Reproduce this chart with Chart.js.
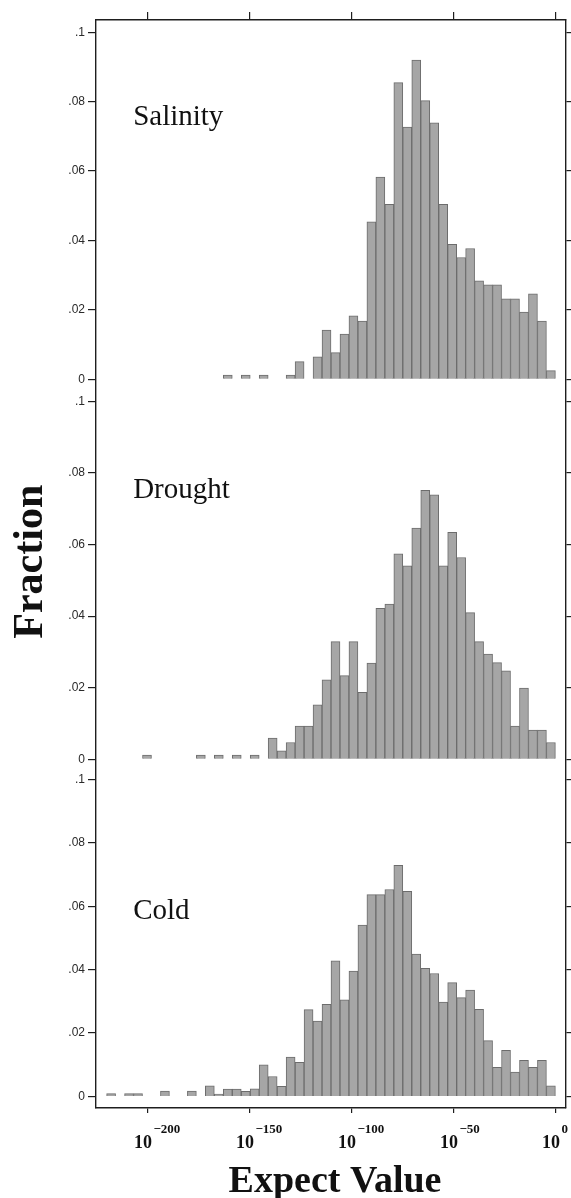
<!DOCTYPE html>
<html lang="en">
<head>
<meta charset="UTF-8">
<title>Expect Value histograms</title>
<script src="https://cdn.jsdelivr.net/npm/chart.js/dist/chart.umd.min.js"></script>
<style>
  html, body { margin: 0; padding: 0; background: #fff; }
  #wrap { position: relative; width: 571px; height: 1198px; }
  canvas { position: absolute; left: 0; }
</style>
</head>
<body>
<div id="wrap">
  <canvas id="salinity" width="571" height="390" style="top:0px"></canvas>
  <canvas id="drought" width="571" height="379" style="top:390px"></canvas>
  <canvas id="cold" width="571" height="429" style="top:769px"></canvas>
</div>
<script>
// histogram fractions, leftmost bin first, last bin ends at 10^0 (null = empty bin)
const BIN_WIDTH = 4.4; // in exponent units
const salinity = [0.0012, null, 0.0012, null, 0.0012, null, null, 0.0012, 0.0051, null,
  0.0065, 0.0142, 0.0077, 0.013, 0.0183, 0.0168, 0.0454, 0.0583, 0.0504, 0.0855,
  0.0727, 0.092, 0.0803, 0.0739, 0.0504, 0.0389, 0.0351, 0.0377, 0.0284, 0.0272,
  0.0272, 0.0232, 0.0232, 0.0194, 0.0246, 0.0168, 0.0025];
const drought = [0.0012, null, null, null, null, null, 0.0012, null, 0.0012, null,
  0.0012, null, 0.0012, null, 0.0059, 0.0024, 0.0047, 0.0093, 0.0093, 0.0152,
  0.0222, 0.0329, 0.0234, 0.0329, 0.0187, 0.0269, 0.0422, 0.0434, 0.0574, 0.0541,
  0.0646, 0.0752, 0.0739, 0.0541, 0.0634, 0.0564, 0.041, 0.0329, 0.0294, 0.027,
  0.0247, 0.0093, 0.0199, 0.0082, 0.0082, 0.0047];
const cold = [0.0009, null, 0.0009, 0.0009, null, null, 0.0017, null, null, 0.0017,
  null, 0.0034, 0.0008, 0.0023, 0.0023, 0.0016, 0.0024, 0.01, 0.0063, 0.0032,
  0.0124, 0.0108, 0.0274, 0.0238, 0.0291, 0.0428, 0.0305, 0.0396, 0.0541, 0.0637,
  0.0637, 0.0653, 0.0729, 0.0647, 0.0449, 0.0404, 0.0388, 0.0298, 0.0359, 0.0312,
  0.0336, 0.0275, 0.0176, 0.0092, 0.0146, 0.0077, 0.0114, 0.0092, 0.0114, 0.0034];

const xTicks = [-200, -150, -100, -50, 0];
const xTickExps = ['\u2212200', '\u2212150', '\u2212100', '\u221250', '0'];
const yTicks = [0, 0.02, 0.04, 0.06, 0.08, 0.1];
const yTickLabels = ['0', '.02', '.04', '.06', '.08', '.1'];

const X_MIN = -225.2, X_MAX = 5.2;
const INK = '#1e1e1e';

// bin centres for n bins ending at 0
function binCenters(n) {
  const out = [];
  for (let i = 0; i < n; i++) out.push(-(n - i - 0.5) * BIN_WIDTH);
  return out;
}

const textPlugin = {
  id: 'panelText',
  afterDraw(chart, args, o) {
    const ctx = chart.ctx;
    const xs = chart.scales.x, ys = chart.scales.y, area = chart.chartArea;
    ctx.save();
    ctx.fillStyle = '#111';
    ctx.textBaseline = 'alphabetic';
    ctx.textAlign = 'left';
    ctx.font = '29px "Liberation Serif"';
    ctx.fillText(o.name, xs.getPixelForValue(-207), ys.getPixelForValue(o.nameY));

    if (o.fraction) {
      ctx.save();
      ctx.translate(41.5, 171.7);
      ctx.rotate(-Math.PI / 2);
      ctx.textAlign = 'center';
      ctx.font = 'bold 42px "Liberation Serif"';
      ctx.fillText('Fraction', 0, 0);
      ctx.restore();
    }
    if (o.xLabels) {
      xTicks.forEach((v, i) => {
        const px = xs.getPixelForValue(v);
        ctx.font = 'bold 18px "Liberation Serif"';
        ctx.textAlign = 'right';
        ctx.fillText('10', px + 4.5, area.bottom + 40.3);
        ctx.font = 'bold 13px "Liberation Serif"';
        ctx.textAlign = 'left';
        ctx.fillText(xTickExps[i], px + 6, area.bottom + 24.7);
      });
      ctx.font = 'bold 38px "Liberation Serif"';
      ctx.textAlign = 'center';
      ctx.fillText('Expect Value', (area.left + area.right) / 2 + 4, area.bottom + 83.7);
    }
    ctx.restore();
  }
};

// y axes must not push the plot area in, panels sit flush
function fitY(width) {
  return s => {
    s.width = width;
    s.paddingTop = 0;
    s.paddingBottom = 0;
  };
}

function makeChart(id, values, cfg) {
  const centers = binCenters(values.length);
  const xAxis = {
    type: 'linear', min: X_MIN, max: X_MAX, offset: false,
    display: cfg.xPos !== 'none',
    position: cfg.xPos === 'none' ? 'bottom' : cfg.xPos,
    afterBuildTicks: s => { s.ticks = xTicks.map(v => ({ value: v })); },
    ticks: { display: false },
    grid: { drawOnChartArea: false, offset: false, tickLength: cfg.xTickLen, color: INK, lineWidth: 1.2 },
    border: { display: true, color: INK, width: 1.4 },
    afterFit: s => { s.height = cfg.xHeight; }
  };
  return new Chart(document.getElementById(id), {
    type: 'bar',
    data: {
      datasets: [{
        data: centers.map((x, i) => ({ x: x, y: values[i] })),
        backgroundColor: '#a6a6a6',
        borderColor: '#6c6c6c',
        borderWidth: 1,
        barPercentage: 1,
        categoryPercentage: 1
      }]
    },
    options: {
      responsive: false,
      animation: false,
      layout: { padding: 0 },
      plugins: {
        legend: { display: false },
        tooltip: { enabled: false },
        panelText: cfg.text
      },
      scales: {
        x: xAxis,
        y: {
          type: 'linear', position: 'left', min: cfg.yMin, max: cfg.yMax,
          afterBuildTicks: s => { s.ticks = yTicks.map(v => ({ value: v })); },
          ticks: {
            callback: v => yTickLabels[yTicks.indexOf(v)],
            font: { family: '"Liberation Sans"', size: 12 },
            color: '#2a2a2a', padding: 3
          },
          grid: { drawOnChartArea: false, tickLength: 8, color: INK, lineWidth: 1.2 },
          border: { display: true, color: INK, width: 1.4 },
          afterFit: fitY(96)
        },
        y2: {
          type: 'linear', position: 'right', min: cfg.yMin, max: cfg.yMax,
          afterBuildTicks: s => { s.ticks = yTicks.map(v => ({ value: v })); },
          ticks: { display: false },
          grid: { drawOnChartArea: false, tickLength: 5, color: INK, lineWidth: 1.2 },
          border: { display: true, color: INK, width: 1.4 },
          afterFit: fitY(5)
        }
      }
    },
    plugins: [textPlugin]
  });
}

makeChart('salinity', salinity, {
  xPos: 'top', xTickLen: 8, xHeight: 20,
  yMin: -0.00308, yMax: 0.10354,
  text: { name: 'Salinity', nameY: 0.0733 }
});
makeChart('drought', drought, {
  xPos: 'none', xTickLen: 0, xHeight: 0,
  yMin: -0.00271, yMax: 0.10321,
  text: { name: 'Drought', nameY: 0.0729, fraction: true }
});
makeChart('cold', cold, {
  xPos: 'bottom', xTickLen: 5, xHeight: 90,
  yMin: -0.00363, yMax: 0.10331,
  text: { name: 'Cold', nameY: 0.056, xLabels: true }
});
</script>
</body>
</html>
